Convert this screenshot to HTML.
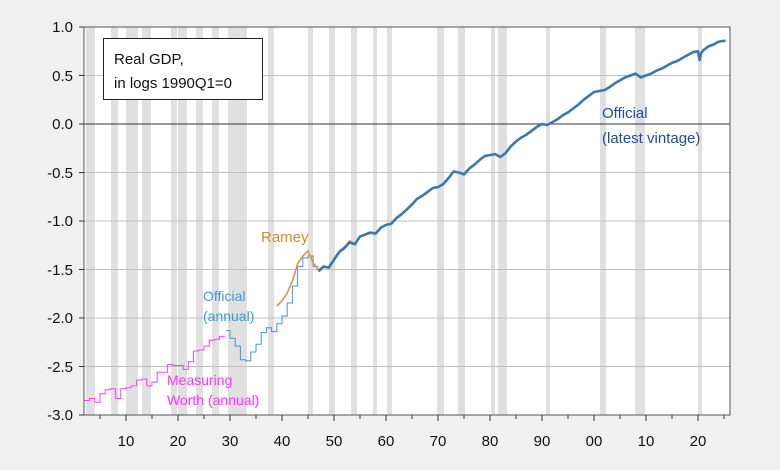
<!DOCTYPE html>
<html><head><meta charset="utf-8"><style>
html,body{margin:0;padding:0;background:#f0f0f0;}
svg{display:block;font-family:"Liberation Sans",Arial,sans-serif;}
</style></head><body>
<svg width="780" height="470" viewBox="0 0 780 470">
<rect x="0" y="0" width="780" height="470" fill="#f0f0f0"/>
<rect x="84" y="27" width="646" height="388" fill="#fff"/>
<g fill="#e0e0e0">
<rect x="86" y="27" width="9" height="388"/>
<rect x="111" y="27" width="7" height="388"/>
<rect x="126" y="27" width="12" height="388"/>
<rect x="142" y="27" width="9" height="388"/>
<rect x="171" y="27" width="6" height="388"/>
<rect x="178" y="27" width="9" height="388"/>
<rect x="196" y="27" width="7" height="388"/>
<rect x="212" y="27" width="7" height="388"/>
<rect x="228" y="27" width="19" height="388"/>
<rect x="268" y="27" width="6" height="388"/>
<rect x="308" y="27" width="5" height="388"/>
<rect x="329" y="27" width="6" height="388"/>
<rect x="351" y="27" width="6" height="388"/>
<rect x="373" y="27" width="4" height="388"/>
<rect x="387" y="27" width="5" height="388"/>
<rect x="437" y="27" width="7" height="388"/>
<rect x="458" y="27" width="7" height="388"/>
<rect x="491" y="27" width="4" height="388"/>
<rect x="498" y="27" width="9" height="388"/>
<rect x="546" y="27" width="4" height="388"/>
<rect x="600" y="27" width="6" height="388"/>
<rect x="635" y="27" width="10" height="388"/>
<rect x="698" y="27" width="4" height="388"/>
</g>
<g stroke="#c0c0c0" stroke-width="1">
<line x1="84" x2="730" y1="75.5" y2="75.5"/>
<line x1="84" x2="730" y1="172.5" y2="172.5"/>
<line x1="84" x2="730" y1="221" y2="221"/>
<line x1="84" x2="730" y1="269.5" y2="269.5"/>
<line x1="84" x2="730" y1="318" y2="318"/>
<line x1="84" x2="730" y1="366.5" y2="366.5"/>
</g>
<line x1="84" x2="730" y1="124" y2="124" stroke="#333" stroke-width="1"/>
<!-- Measuring Worth -->
<polyline fill="none" stroke="#ff40ff" stroke-width="1" points="84,400.5 89.6,400.5 89.6,398.5 94.8,398.5 94.8,402.4 100,402.4 100,393.7 105.2,393.7 105.2,389.8 110.4,389.8 110.4,388.8 115.6,388.8 115.6,398.5 120.8,398.5 120.8,388.8 126,388.8 126,387.8 131.2,387.8 131.2,385.9 136.4,385.9 136.4,380.1 141.6,380.1 141.6,379.1 146.8,379.1 146.8,385.9 152,385.9 152,382 157.2,382 157.2,372.3 167.6,372.3 167.6,364.6 172.8,364.6 172.8,365.5 183.2,365.5 183.2,369.4 188.4,369.4 188.4,361.7 193.6,361.7 193.6,351 198.8,351 198.8,350 204,350 204,346.1 209.2,346.1 209.2,340.3 214.4,340.3 214.4,339.3 219.6,339.3 219.6,336.4 224.8,336.4"/>
<!-- Official annual -->
<polyline fill="none" stroke="#3d9ad2" stroke-width="1" points="226,330.6 230,330.6 230,338.4 235.2,338.4 235.2,346.1 240.4,346.1 240.4,359.7 245.6,359.7 245.6,360.7 250.8,360.7 250.8,352 256,352 256,344.2 261.2,344.2 261.2,332.6 266.4,332.6 266.4,327.7 271.6,327.7 271.6,331.6 276.8,331.6 276.8,323.8 282,323.8 282,316 287.2,316 287.2,303 292.4,303 292.4,286 297.6,286 297.6,266.6 302.8,266.6 302.8,257.9 308,257.9 308,256 313.2,256 313.2,266.6 318.4,266.6"/>
<!-- Ramey -->
<polyline fill="none" stroke="#e09040" stroke-width="1.6" points="277,306 282,301 287.2,293 292.4,281 297.6,264 302.8,256 308,251 313.2,263 318.4,270 323.6,266 328.8,267 334,259 339.2,251 344.4,247 349.6,241 354.8,243.5 360,236 365.2,234 370.4,232 375.6,233"/>
<!-- Official latest -->
<polyline fill="none" stroke="#3a78b0" stroke-width="2.6" stroke-linejoin="round" points="318.4,271.4 323.6,266.6 328.8,267.6 334,259.8 339.2,252 344.4,248.2 349.6,242.3 354.8,244.3 360,236.5 365.2,234.6 370.4,232.6 375.6,233.6 380.8,227.8 386,224.9 391.2,223.9 396.4,218.1 401.6,214.2 406.8,209.4 412,204.5 417.2,198.7 422.4,195.8 427.6,191.9 432.8,188 438,187.1 443.2,184.1 448.4,178.3 453.6,171.5 458.8,172.5 464,174.4 469.2,168.6 474.4,164.7 479.6,159.9 484.8,156 490,155 495.2,154.1 500.4,157 505.6,153.1 510.8,146.3 516,141.5 521.2,137.6 526.4,134.7 531.6,130.8 536.8,126.9 542,124 547.2,125 552.4,122.1 557.6,119.2 562.8,115.3 568,112.4 573.2,108.5 578.4,104.6 583.6,99.8 588.8,95.9 594,92 599.2,91 604.4,90.1 609.6,87.1 614.8,83.3 620,80.4 625.2,77.4 630.4,75.5 635.6,73.6 640.8,77.4 646,75.5 651.2,73.6 656.4,70.7 661.6,68.7 666.8,65.8 672,62.9 677.2,61 682.4,58 687.6,55.1 692.8,52.2 698,51.3 699.6,60 701.1,53.2 703.2,50.3 708.4,46.4 713.6,44.5 718.8,41.6 725.6,40.6"/>
<!-- frame -->
<rect x="84" y="27" width="646" height="388" fill="none" stroke="#555" stroke-width="1"/>
<g stroke="#333" stroke-width="1">
<line x1="79" x2="84" y1="27" y2="27"/><line x1="79" x2="84" y1="75.5" y2="75.5"/><line x1="79" x2="84" y1="124" y2="124"/><line x1="79" x2="84" y1="172.5" y2="172.5"/><line x1="79" x2="84" y1="221" y2="221"/><line x1="79" x2="84" y1="269.5" y2="269.5"/><line x1="79" x2="84" y1="318" y2="318"/><line x1="79" x2="84" y1="366.5" y2="366.5"/><line x1="79" x2="84" y1="415" y2="415"/>
<line x1="100" x2="100" y1="415" y2="419"/><line x1="126" x2="126" y1="415" y2="421"/><line x1="152" x2="152" y1="415" y2="419"/><line x1="178" x2="178" y1="415" y2="421"/><line x1="204" x2="204" y1="415" y2="419"/><line x1="230" x2="230" y1="415" y2="421"/><line x1="256" x2="256" y1="415" y2="419"/><line x1="282" x2="282" y1="415" y2="421"/><line x1="308" x2="308" y1="415" y2="419"/><line x1="334" x2="334" y1="415" y2="421"/><line x1="360" x2="360" y1="415" y2="419"/><line x1="386" x2="386" y1="415" y2="421"/><line x1="412" x2="412" y1="415" y2="419"/><line x1="438" x2="438" y1="415" y2="421"/><line x1="464" x2="464" y1="415" y2="419"/><line x1="490" x2="490" y1="415" y2="421"/><line x1="516" x2="516" y1="415" y2="419"/><line x1="542" x2="542" y1="415" y2="421"/><line x1="568" x2="568" y1="415" y2="419"/><line x1="594" x2="594" y1="415" y2="421"/><line x1="620" x2="620" y1="415" y2="419"/><line x1="646" x2="646" y1="415" y2="421"/><line x1="672" x2="672" y1="415" y2="419"/><line x1="698" x2="698" y1="415" y2="421"/><line x1="724" x2="724" y1="415" y2="419"/>
</g>
<g font-size="15" fill="#111" text-anchor="end">
<text x="73" y="32">1.0</text><text x="73" y="81">0.5</text><text x="73" y="129">0.0</text><text x="73" y="178">-0.5</text><text x="73" y="226">-1.0</text><text x="73" y="275">-1.5</text><text x="73" y="323">-2.0</text><text x="73" y="372">-2.5</text><text x="73" y="420">-3.0</text>
</g>
<g font-size="15" fill="#111" text-anchor="middle">
<text x="126" y="446">10</text><text x="178" y="446">20</text><text x="230" y="446">30</text><text x="282" y="446">40</text><text x="334" y="446">50</text><text x="386" y="446">60</text><text x="438" y="446">70</text><text x="490" y="446">80</text><text x="542" y="446">90</text><text x="594" y="446">00</text><text x="646" y="446">10</text><text x="698" y="446">20</text>
</g>
<rect x="103.5" y="38.5" width="159" height="61" fill="#fff" stroke="#222" stroke-width="1"/>
<text x="114" y="64" font-size="15" fill="#111">Real GDP,</text>
<text x="114" y="88" font-size="15" fill="#111">in logs 1990Q1=0</text>
<text x="261" y="242" font-size="15" fill="#d08a30">Ramey</text>
<text x="203" y="301" font-size="14" fill="#3d9ad2">Official</text>
<text x="203" y="321" font-size="14" fill="#3d9ad2">(annual)</text>
<text x="167" y="385" font-size="14" fill="#ff30ff">Measuring</text>
<text x="167" y="405" font-size="14" fill="#ff30ff">Worth (annual)</text>
<text x="602" y="118" font-size="15" fill="#1f4e99">Official</text>
<text x="602" y="143" font-size="15" fill="#1f4e99">(latest vintage)</text>
</svg>
</body></html>
